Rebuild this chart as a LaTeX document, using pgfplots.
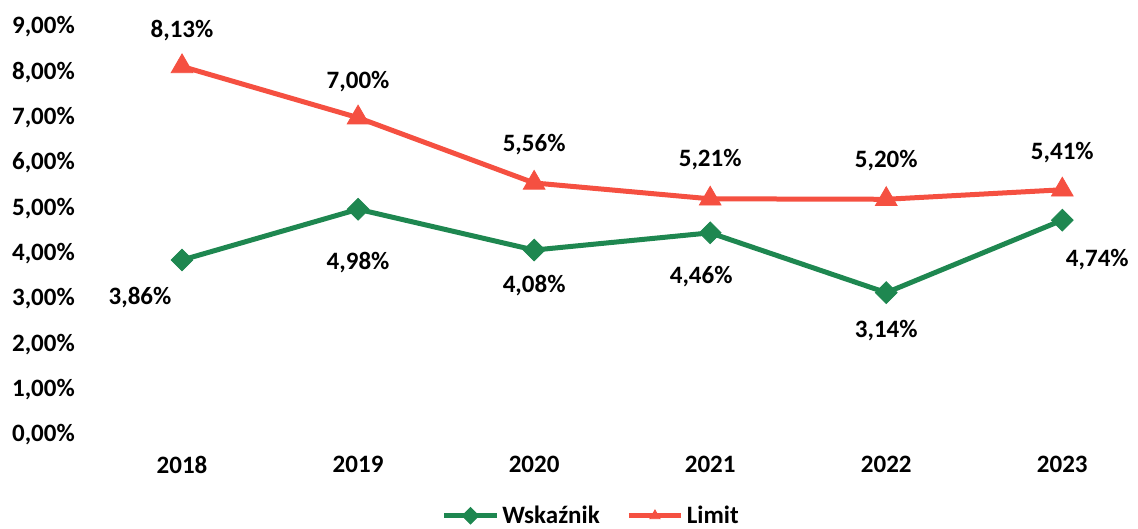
\documentclass[border=0pt]{standalone}
\usepackage{pgfplots}
\pgfplotsset{compat=1.18}
\usepackage{pgfplotstable}
\usepackage{fontspec}
\setmainfont{Carlito}
\definecolor{cgreen}{RGB}{30,135,80}
\definecolor{cred}{RGB}{245,80,65}
\pgfplotstableread{
x y dx dy
0 3.86 -42 -38
1 4.98 0 -53
2 4.08 0 -36
3 4.46 -9 -44
4 3.14 0 -38
5 4.74 35 -39
}\wsk
\pgfplotstableread{
x y dx dy
0 8.13 0 36
1 7.00 0 36
2 5.56 0 38
3 5.21 0 39
4 5.20 0 39
5 5.41 0 37
}\lim
\begin{document}
\begin{tikzpicture}[x=1pt,y=1pt]
\begin{axis}[
  at={(0,0)}, anchor=south west,
  scale only axis,
  width=626.4pt, height=244.8pt,
  xmin=-0.5, xmax=5.43,
  ymin=0, ymax=9,
  xtick={0,...,5},
  xticklabels={2018,2019,2020,2021,2022,2023},
  ytick={0,...,9},
  axis line style={draw=none},
  major tick length=0pt,
  font=\fontsize{15}{17}\selectfont\bfseries,
  /pgf/number format/assume math mode=true,
  yticklabel={\pgfmathprintnumber[fixed,fixed zerofill,precision=2,use comma]{\tick}\%},
  yticklabel style={xshift=-8pt},
  xticklabel style={yshift=-9pt},
  clip=false,
  legend columns=2,
  legend style={draw=none, at={(0.477,-0.198)}, anchor=center,
    font=\fontsize{15}{17}\selectfont\bfseries, inner sep=0pt,
    /tikz/every even column/.append style={column sep=14pt}},
  legend image code/.code={\draw[#1, mark repeat=2, mark phase=2, mark size=3.5pt] plot coordinates {(0cm,0cm)(0.55cm,0cm)(1.1cm,0cm)};},
  nodes near coords={\pgfmathprintnumber[fixed,fixed zerofill,precision=2,use comma]{\pgfplotspointmeta}\%},
  visualization depends on={\thisrow{dx} \as \dx},
  visualization depends on={\thisrow{dy} \as \dy},
  every node near coord/.append style={anchor=center, text=black,
    font=\fontsize{15}{17}\selectfont\bfseries,
    xshift={\dx*0.6pt}, yshift={\dy*0.6pt}},
]
\addplot[color=cgreen, line width=3pt, mark=square*, mark size=4.6pt,
  mark options={rotate=45, fill=cgreen, draw=cgreen, line width=0.5pt}]
  table[x=x,y=y] {\wsk};
\addlegendentry{Wskaźnik}
\addplot[color=cred, line width=3pt, mark=triangle*, mark size=7.5pt,
  mark options={fill=cred, draw=cred, line width=0.5pt}]
  table[x=x,y=y] {\lim};
\addlegendentry{Limit}
\end{axis}
\pgfresetboundingbox
\useasboundingbox (-56.4pt,-55.8pt) rectangle (626.4pt,261pt);
\end{tikzpicture}
\end{document}
